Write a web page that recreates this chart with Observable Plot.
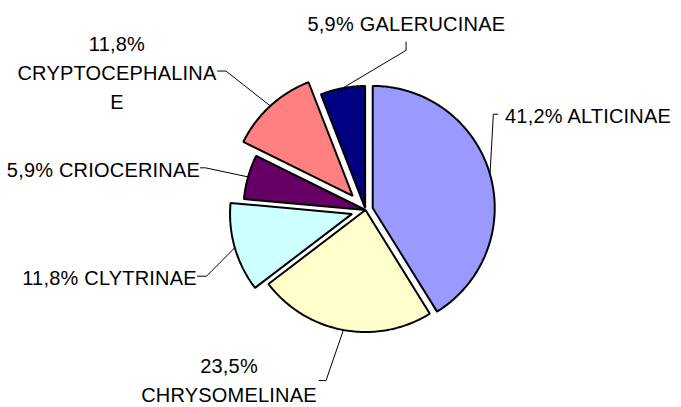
<!DOCTYPE html>
<html><head><meta charset="utf-8">
<script src="https://cdn.jsdelivr.net/npm/d3@7"></script>
<script src="https://cdn.jsdelivr.net/npm/@observablehq/plot@0.6"></script>
<style>body{margin:0;background:#fff}</style>
</head><body><div id="chart"></div>
<script>
// ---- data ----
const subfamilies = ["ALTICINAE","CHRYSOMELINAE","CLYTRINAE","CRIOCERINAE","CRYPTOCEPHALINAE","GALERUCINAE"];
const percents = [41.2, 23.5, 11.8, 5.9, 11.8, 5.9];
const labelTexts = ["41,2% ALTICINAE","23,5%\nCHRYSOMELINAE","11,8% CLYTRINAE","5,9% CRIOCERINAE","11,8%\nCRYPTOCEPHALINA\nE","5,9% GALERUCINAE"];
const colors = ["#9999FF","#FFFFCC","#CCFFFF","#660066","#FF8080","#000080"];

// ---- layout ----
const W = 681, H = 407, CX = 365, CY = 209.5, R = 122;
const explode = [7.5, 0, 14, 0, 19, 2];
const leaderLayout = [
  {elbow:[3.3,-60.3],  end:[7.6,-60.3],  text:[15,-60.3],   anchor:"start"},
  {elbow:[-17.4,50.6], end:[-24.4,50.6], text:[-114.4,48],  anchor:"middle"},
  {elbow:[-28.3,28.5], end:[-37.3,28.5], text:[-38,28],     anchor:"end"},
  {elbow:[-42.7,-9.1], end:[-47.7,-9.1], text:[-48,-9.1],   anchor:"end"},
  {elbow:[-44.4,-34.9],end:[-52.7,-34.9],text:[-153.4,-34.9],anchor:"middle"},
  {elbow:[63.4,-37.8], end:[63.4,-46.1], text:[63.7,-66.8], anchor:"middle"}
];

const arcs = d3.pie().sort(null).value(d => d)(percents);
const slicePts = [], leaderPts = [], labels = [];
arcs.forEach((a, i) => {
  const name = subfamilies[i];
  const mid = (a.startAngle + a.endAngle) / 2;
  const ox = CX + explode[i] * Math.sin(mid), oy = CY - explode[i] * Math.cos(mid);
  slicePts.push({name, x: ox, y: oy});
  const n = Math.max(4, Math.ceil((a.endAngle - a.startAngle) / (Math.PI / 180)));
  for (let k = 0; k <= n; k++) {
    const t = a.startAngle + (a.endAngle - a.startAngle) * k / n;
    slicePts.push({name, x: ox + R * Math.sin(t), y: oy - R * Math.cos(t)});
  }
  const mx = ox + R * Math.sin(mid), my = oy - R * Math.cos(mid);
  const L = leaderLayout[i];
  leaderPts.push({name, x: mx, y: my});
  leaderPts.push({name, x: mx + L.elbow[0], y: my + L.elbow[1]});
  leaderPts.push({name, x: mx + L.end[0], y: my + L.end[1]});
  labels.push({name, text: labelTexts[i], x: mx + L.text[0], y: my + L.text[1], anchor: L.anchor});
});

const chart = Plot.plot({
  width: W, height: H, margin: 0,
  x: {domain: [0, W], range: [0, W], axis: null},
  y: {domain: [0, H], range: [0, H], axis: null},
  color: {domain: subfamilies, range: colors},
  style: {fontFamily: "'Liberation Sans', Arial, sans-serif", background: "#fff", letterSpacing: "0.2px"},
  marks: [
    Plot.line(slicePts, {x: "x", y: "y", z: "name", fill: "name", stroke: "black", strokeWidth: 2, curve: "linear-closed", strokeLinejoin: "miter"}),
    Plot.line(leaderPts, {x: "x", y: "y", z: "name", stroke: "black", strokeWidth: 1}),
    ...["start","middle","end"].map(anc =>
      Plot.text(labels.filter(d => d.anchor === anc), {x: "x", y: "y", text: "text", textAnchor: anc, lineAnchor: "middle", lineHeight: 1.45, fontSize: 20, fill: "black"}))
  ]
});
document.getElementById("chart").appendChild(chart);
</script>
</body></html>
